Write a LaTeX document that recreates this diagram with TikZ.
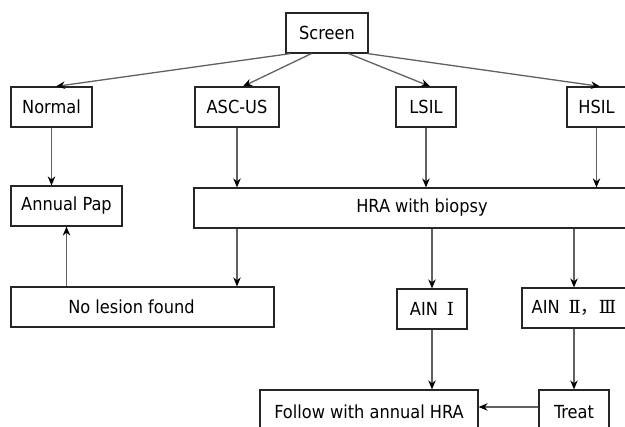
\documentclass[tikz,border=0pt]{standalone}
\usepackage{fontspec}
\setmainfont{DejaVu Sans Condensed}
\newfontfamily\numfont{DejaVu Serif}
\newfontfamily\cjk{Noto Sans CJK SC}
\usetikzlibrary{arrows.meta}
\begin{document}
\begin{tikzpicture}
[x=1pt,y=-1pt,
  boxdecorate/.style={shape=rectangle,draw=black!85,line width=1.2pt,inner sep=0pt,
    font=\fontsize{18}{20}\selectfont},
  arrowdecorate/.style={draw=black!62,line width=1.3pt,-{Stealth[black,length=9pt,width=7.5pt]}}]
\useasboundingbox (0,0) rectangle (625,427);
%% boxes
\foreach \nodename/\x/\y/\w/\h/\txt in {
  screen/327/33/82/40/Screen, normal/51.5/107/81/40/Normal,
  ascus/237/107/84/40/ASC-US, lsil/426/107/60/40/LSIL,
  hsil/596.5/107/59/40/HSIL, annual/66.5/206/111/40/Annual Pap,
  hra/422/208/456/40/HRA with biopsy,
  nolesion/142.5/307/263/40/{No lesion found\hspace*{22pt}},
  ain1/432/309/70/40/{AIN\enspace{\numfont Ⅰ}},
  ain23/574/308/104/40/{AIN\enspace{\numfont Ⅱ}{\cjk ，}{\numfont Ⅲ}},
  follow/369/412/218/44/Follow with annual HRA, treat/574/412/70/44/Treat}
{
  \node (\nodename) at (\x,\y) [boxdecorate,minimum width=\w pt,minimum height=\h pt] {\txt};
}
%% from the screen
\draw[arrowdecorate] ([xshift=5pt]screen.south west) -- ([xshift=4.5pt]normal.north);
\draw[arrowdecorate] ([xshift=26pt]screen.south west) -- ([xshift=6pt]ascus.north);
\draw[arrowdecorate] ([xshift=-20pt]screen.south east) -- ([xshift=4pt]lsil.north);
\draw[arrowdecorate] ([xshift=-1pt]screen.south east) -- ([xshift=3.5pt]hsil.north);
%% straight down
\foreach \startnode/\endnode/\col in {
  normal/annual/normal, ascus/hra/ascus, lsil/hra/lsil, hsil/hra/hsil,
  hra/nolesion/ascus, hra/ain1/ain1, hra/ain23/ain23,
  ain1/follow/ain1, ain23/treat/ain23}
{
  \draw[arrowdecorate] (\col |- \startnode.south) -- (\col |- \endnode.north);
}
%% back up and across
\draw[arrowdecorate] (annual |- nolesion.north) -- (annual.south);
\draw[arrowdecorate] ([yshift=5pt]treat.west) -- ([yshift=5pt]treat.west -| follow.east);
\end{tikzpicture}
\end{document}
